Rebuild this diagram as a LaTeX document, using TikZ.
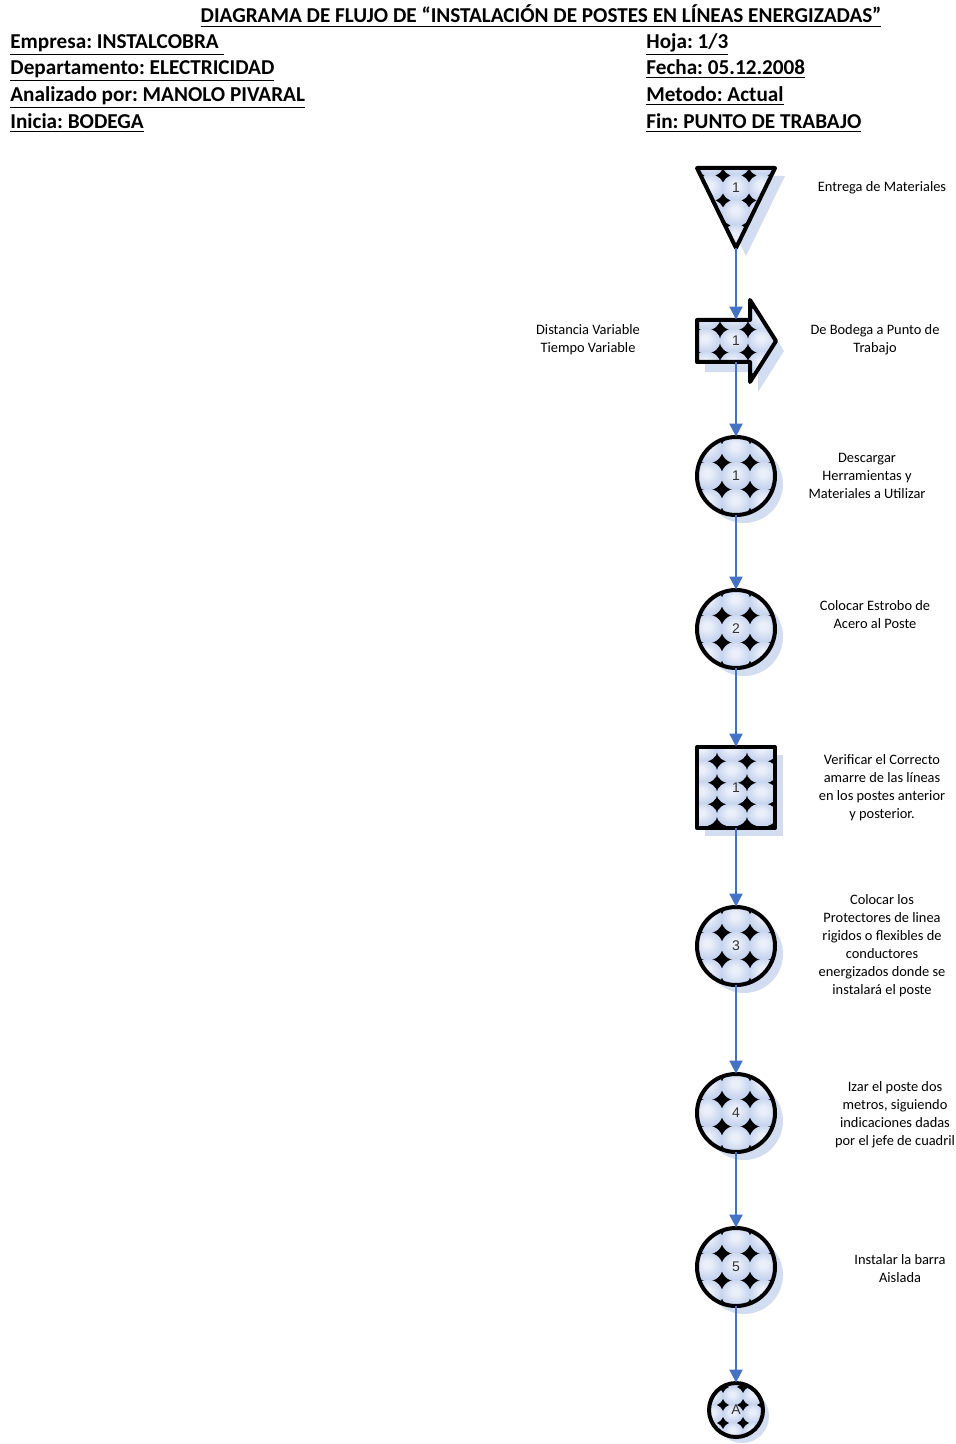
\documentclass[tikz,border=0pt]{standalone}
\usepackage{fontspec}
\setmainfont{Carlito}
\newfontfamily\numfont{Liberation Sans}
\usetikzlibrary{arrows.meta}
\frenchspacing
\definecolor{conn}{RGB}{68,114,196}
\definecolor{ballhi}{RGB}{234,239,250}
\definecolor{ballmid}{RGB}{188,204,235}
\definecolor{ballc}{RGB}{128,153,204}
\definecolor{shadowc}{RGB}{210,221,241}
\pgfdeclareradialshading{myball}{\pgfpoint{-2bp}{6bp}}{color(0bp)=(ballhi); color(6bp)=(ballhi); color(30bp)=(ballmid); color(44bp)=(ballc); color(50bp)=(ballc)}
% #1 cx, #2 cy, #3 dx, #4 dy, #5 imin, #6 imax, #7 jmin, #8 jmax, #9 radii "rx and ry"
\newcommand\ballgrid[9]{%
  \foreach \i in {#5,...,#6}{\foreach \j in {#7,...,#8}{%
    \shade[shading=myball] ({#1+\i*#3},{#2+\j*#4}) ellipse (#9);}}}
\begin{document}
\begin{tikzpicture}[x=0.5pt,y=-0.5pt,
  hdr/.style={anchor=base west,inner sep=0,font=\bfseries\fontsize{10.6}{12}\selectfont},
  lbl/.style={align=center,inner sep=0,font=\fontsize{7.2}{9}\selectfont},
  shp/.style={inner sep=0,font=\numfont\fontsize{7}{8}\selectfont,text=black!80},
  flow/.style={draw=conn,line width=1pt,-{Triangle[length=6.5pt,width=6.5pt]}},
  outl/.style={draw=black,line width=2pt,line join=round},
  shd/.style={fill=shadowc}]
\useasboundingbox (0,0) rectangle (956,1444);

% ---------- header ----------
\node[anchor=base,inner sep=0,font=\bfseries\fontsize{10.6}{12}\selectfont] (title) at (541,23) {\underline{DIAGRAMA DE FLUJO DE “INSTALACIÓN DE POSTES EN LÍNEAS ENERGIZADAS”}};
\node[hdr] (h1) at (10,48.5) {\underline{Empresa: INSTALCOBRA\ }};
\node[hdr] (h2) at (10,74.5) {\underline{Departamento: ELECTRICIDAD}};
\node[hdr] (h3) at (10,101.5) {\underline{Analizado por: MANOLO PIVARAL}};
\node[hdr] (h4) at (10,128.5) {\underline{Inicia: BODEGA}};
\node[hdr] (h5) at (646,48.5) {\underline{Hoja: 1/3}};
\node[hdr] (h6) at (646,74.5) {\underline{Fecha: 05.12.2008}};
\node[hdr] (h7) at (646,101.5) {\underline{Metodo: Actual}};
\node[hdr] (h8) at (646,128.5) {\underline{Fin: PUNTO DE TRABAJO}};

% ---------- shadows ----------
\fill[shd] (707,176) -- (785,176) -- (746,256) -- cycle;
\fill[shd] (705,330) -- (758,330) -- (758,310) -- (784,351) -- (758,392) -- (758,372) -- (705,372) -- cycle;
\foreach \cy in {476,629,946,1113,1267} \fill[shd] (744,\cy+8) circle (19.5pt);
\fill[shd] (705,755) rectangle (783,836);
\fill[shd] (742,1416) circle (13.5pt);

% ---------- storage triangle ----------
\fill[black] (697,168) -- (775,168) -- (736,248) -- cycle;
\begin{scope}
 \clip (697,168) -- (775,168) -- (736,248) -- cycle;
 \ballgrid{736}{188}{26}{25}{-2}{2}{-1}{3}{7.1pt and 6.8pt}
\end{scope}
\draw[outl] (697,168) -- (775,168) -- (736,248) -- cycle;
\node[shp,minimum width=39pt,minimum height=40pt] (s1) at (736,208) {};
\node[shp] (s1t) at (736,188) {1};

% ---------- transport arrow ----------
\fill[black] (697,320) -- (750,320) -- (750,300) -- (776,341) -- (750,382) -- (750,362) -- (697,362) -- cycle;
\begin{scope}
 \clip (697,320) -- (750,320) -- (750,300) -- (776,341) -- (750,382) -- (750,362) -- (697,362) -- cycle;
 \ballgrid{734}{341}{28}{23}{-1}{2}{-2}{2}{7.2pt and 6.2pt}
\end{scope}
\draw[outl] (697,320) -- (750,320) -- (750,300) -- (776,341) -- (750,382) -- (750,362) -- (697,362) -- cycle;
\node[shp,minimum width=39pt,minimum height=21pt] (t1) at (736,341) {1};

% ---------- operation circles ----------
\foreach \nm/\cy/\num in {o1/476/1,o2/629/2,o3/946/3,o4/1113/4,o5/1267/5}{
  \fill[black] (736,\cy) circle (19.5pt);
  \begin{scope}
    \clip (736,\cy) circle (19.5pt);
    \ballgrid{736}{\cy}{28}{27}{-2}{2}{-2}{2}{7.35pt and 7.1pt}
  \end{scope}
  \draw[outl] (736,\cy) circle (19.5pt);
  \node[shp,circle,minimum size=39pt] (\nm) at (736,\cy) {\num};
}

% ---------- inspection square ----------
\fill[black] (697,747) rectangle (775,828);
\begin{scope}
 \clip (697,747) rectangle (775,828);
 \ballgrid{732}{772}{30}{21.5}{-2}{2}{-2}{3}{7.7pt and 5.8pt}
\end{scope}
\draw[outl] (697,747) rectangle (775,828);
\node[shp,minimum width=39pt,minimum height=40.5pt] (i1) at (736,787.5) {1};

% ---------- connector A ----------
\fill[black] (736,1410) circle (13.5pt);
\begin{scope}
 \clip (736,1410) circle (13.5pt);
 \ballgrid{733}{1414}{20}{18}{-2}{2}{-2}{2}{5.2pt and 4.8pt}
\end{scope}
\draw[outl] (736,1410) circle (13.5pt);
\node[shp,circle,minimum size=27pt] (cA) at (736,1410) {A};

% ---------- flow lines ----------
\draw[flow] (s1.south) -- (t1.north);
\draw[flow] (t1.south) -- (o1.north);
\draw[flow] (o1.south) -- (o2.north);
\draw[flow] (o2.south) -- (i1.north);
\draw[flow] (i1.south) -- (o3.north);
\draw[flow] (o3.south) -- (o4.north);
\draw[flow] (o4.south) -- (o5.north);
\draw[flow] (o5.south) -- (cA.north);

% ---------- labels ----------
\node[lbl] (l1) at (882,188) {Entrega de Materiales};
\node[lbl] (l2) at (588,340) {Distancia Variable\\Tiempo Variable};
\node[lbl] (l3) at (875,340) {De Bodega a Punto de\\Trabajo};
\node[lbl] (l4) at (867,476) {Descargar\\Herramientas y\\Materiales a Utilizar};
\node[lbl] (l5) at (875,615) {Colocar Estrobo de\\Acero al Poste};
\node[lbl] (l6) at (882,788) {Verificar el Correcto\\amarre de las líneas\\en los postes anterior\\y posterior.};
\node[lbl] (l7) at (882,946) {Colocar los\\Protectores de linea\\rigidos o flexibles de\\conductores\\energizados donde se\\instalará el poste};
\node[lbl] (l8) at (895,1114.5) {Izar el poste dos\\metros, siguiendo\\indicaciones dadas\\por el jefe de cuadril};
\node[lbl] (l9) at (900,1269) {Instalar la barra\\Aislada};
\end{tikzpicture}
\end{document}
